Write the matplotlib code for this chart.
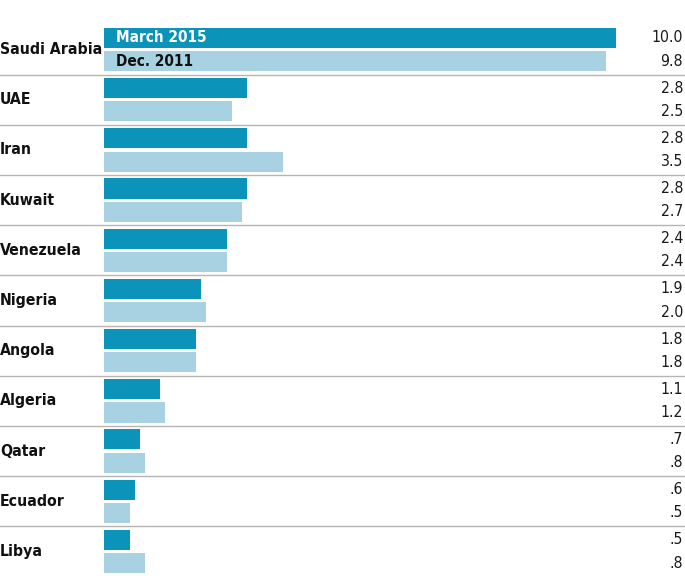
import matplotlib.pyplot as plt
import matplotlib.transforms as mtransforms

countries = ['Saudi Arabia', 'UAE', 'Iran', 'Kuwait', 'Venezuela', 'Nigeria',
             'Angola', 'Algeria', 'Qatar', 'Ecuador', 'Libya']
march_2015 = [10.0, 2.8, 2.8, 2.8, 2.4, 1.9, 1.8, 1.1, 0.7, 0.6, 0.5]
dec_2011 = [9.8, 2.5, 3.5, 2.7, 2.4, 2.0, 1.8, 1.2, 0.8, 0.5, 0.8]
march_labels = ['10.0', '2.8', '2.8', '2.8', '2.4', '1.9', '1.8', '1.1', '.7', '.6', '.5']
dec_labels = ['9.8', '2.5', '3.5', '2.7', '2.4', '2.0', '1.8', '1.2', '.8', '.5', '.8']

dark = '#0b93b9'
light = '#a8d2e1'
fonts = ['DejaVu Sans']

W, H = 685, 587
fig = plt.figure(figsize=(W / 100, H / 100), dpi=100)
ax = fig.add_axes([104 / W, 1 - 573 / H, 512 / W, 545 / H])

off = 0.232
bh = 0.40
y = list(range(len(countries)))
ax.barh([i - off for i in y], march_2015, height=bh, color=dark)
ax.barh([i + off for i in y], dec_2011, height=bh, color=light)
ax.set_xlim(0, 10)
ax.set_ylim(10.43, -0.43)
ax.axis('off')

# x in figure fraction, y in data
tr = mtransforms.blended_transform_factory(fig.transFigure, ax.transData)
for i, name in enumerate(countries):
    ax.text(0.0, i, name, transform=tr, ha='left', va='center',
            fontsize=11.3, fontweight='bold', fontstretch='condensed',
            family=fonts, color='#111111')
    ax.text(683 / W, i - off, march_labels[i], transform=tr, ha='right',
            va='center', fontsize=11.3, fontstretch='condensed',
            family=fonts, color='#1a1a1a')
    ax.text(683 / W, i + off, dec_labels[i], transform=tr, ha='right',
            va='center', fontsize=11.3, fontstretch='condensed',
            family=fonts, color='#1a1a1a')
    if i < len(countries) - 1:
        ax.plot([0, 1], [i + 0.5, i + 0.5], transform=tr, color='#b5b5b5',
                lw=1.0, clip_on=False)

ax.text(0.23, -off, 'March 2015', ha='left', va='center', fontsize=11,
        fontweight='bold', fontstretch='condensed', family=fonts, color='white')
ax.text(0.23, off, 'Dec. 2011', ha='left', va='center', fontsize=11,
        fontweight='bold', fontstretch='condensed', family=fonts, color='#111111')

fig.savefig('out.png', dpi=100)
